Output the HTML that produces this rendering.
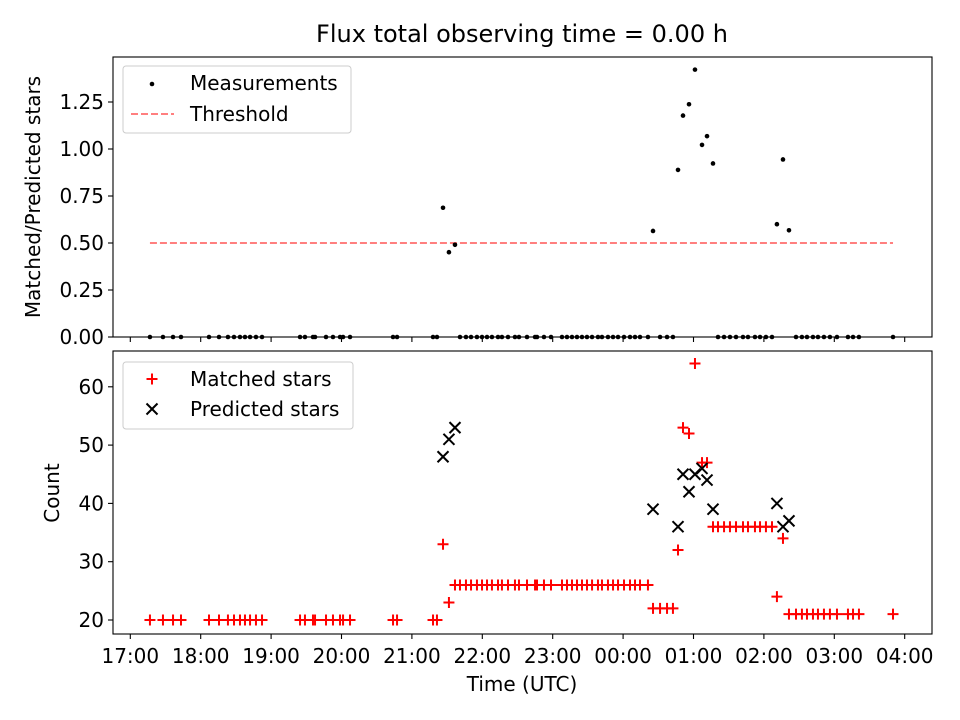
<!DOCTYPE html>
<html><head><meta charset="utf-8"><style>
html,body{margin:0;padding:0;background:#fff;}
svg{display:block;font-family:"DejaVu Sans","Liberation Sans",sans-serif;}
</style></head><body>
<svg id="chart" width="960" height="720" viewBox="0 0 960 720" xmlns="http://www.w3.org/2000/svg">
<rect width="960" height="720" fill="#fff"/>
<text x="522" y="42" font-size="24" text-anchor="middle">Flux total observing time = 0.00 h</text>
<g id="topPanel"></g><g id="botPanel"></g>
</svg>
<script>
// hours since 17:00 UTC
const times = [0.279,0.464,0.607,0.720,
1.118,1.260,1.387,1.473,1.558,1.629,1.701,1.785,1.871,
2.411,2.481,2.595,2.624,2.780,2.879,2.979,3.022,3.121,
3.732,3.789,4.300,4.356,4.442,4.526,
4.612,4.683,4.768,4.840,4.924,4.996,5.067,5.137,5.223,5.279,5.365,5.464,5.521,5.635,5.749,5.777,5.876,5.976,6.132,6.203,6.274,6.345,6.416,6.487,6.559,6.643,6.700,6.785,6.857,6.928,7.013,7.098,7.169,7.240,7.353,
7.425,7.525,7.624,7.708,
7.780,7.851,7.936,8.021,8.121,8.192,8.277,
8.348,8.434,8.518,8.604,8.703,8.774,8.873,8.945,9.029,9.115,
9.185,9.271,9.356,
9.456,9.540,9.612,9.697,9.768,9.853,9.938,10.038,10.194,10.266,10.350,
10.834];
const matched = [20,20,20,20,
20,20,20,20,20,20,20,20,20,
20,20,20,20,20,20,20,20,20,
20,20,20,20,33,23,
26,26,26,26,26,26,26,26,26,26,26,26,26,26,26,26,26,26,26,26,26,26,26,26,26,26,26,26,26,26,26,26,26,26,26,
22,22,22,22,
32,53,52,64,47,47,36,
36,36,36,36,36,36,36,36,36,36,
24,34,21,
21,21,21,21,21,21,21,21,21,21,21,
21];
const predicted = [null,null,null,null,
null,null,null,null,null,null,null,null,null,
null,null,null,null,null,null,null,null,null,
null,null,null,null,48,51,
53,null,null,null,null,null,null,null,null,null,null,null,null,null,null,null,null,null,null,null,null,null,null,null,null,null,null,null,null,null,null,null,null,null,null,
39,null,null,null,
36,45,42,45,46,44,39,
null,null,null,null,null,null,null,null,null,null,
40,36,37,
null,null,null,null,null,null,null,null,null,null,null,
null];
const threshold = 0.5;
const xTickLabels = ["17:00","18:00","19:00","20:00","21:00","22:00","23:00","00:00","01:00","02:00","03:00","04:00"];
const topTicks = [0,0.25,0.5,0.75,1.0,1.25];
const botTicks = [20,30,40,50,60];

const NS="http://www.w3.org/2000/svg";
function mk(parent,tag,attrs){const e=document.createElementNS(NS,tag);for(const k in attrs)e.setAttribute(k,attrs[k]);parent.appendChild(e);return e;}
const L=113,R=932;
const xS=h=>130.3+h*70.4;
const TB={top:57,bot:337}, BB={top:351,bot:634};
const yT=v=>337-v*188;
const yB=v=>620-(v-20)*5.83;
const gTop=document.getElementById('topPanel'), gBot=document.getElementById('botPanel');
const FS=20;

function axes(g,box,name){
  const r=mk(g,'rect',{x:L,y:box.top,width:R-L,height:box.bot-box.top,fill:'none',stroke:'#000','stroke-width':1.1});
  
  
  xTickLabels.forEach((lab,i)=>{
    const x=xS(i);
    const t=mk(g,'line',{x1:x,x2:x,y1:box.bot,y2:box.bot+5,stroke:'#000','stroke-width':1.1});
    
    
  });
}
axes(gTop,TB,'top-axes'); axes(gBot,BB,'bottom-axes');

topTicks.forEach(v=>{
  const y=yT(v);
  const t=mk(gTop,'line',{x1:L-5,x2:L,y1:y,y2:y,stroke:'#000','stroke-width':1.1});
  
  
  const tx=mk(gTop,'text',{x:L-9,y:y+7,'font-size':FS,'text-anchor':'end'});
  tx.textContent=v.toFixed(2);
  
  
});
botTicks.forEach(v=>{
  const y=yB(v);
  const t=mk(gBot,'line',{x1:L-5,x2:L,y1:y,y2:y,stroke:'#000','stroke-width':1.1});
  
  
  const tx=mk(gBot,'text',{x:L-9,y:y+7,'font-size':FS,'text-anchor':'end'});
  tx.textContent=v;
  
  
});
xTickLabels.forEach((lab,i)=>{
  const tx=mk(gBot,'text',{x:xS(i),y:663,'font-size':FS,'text-anchor':'middle'});
  tx.textContent=lab;
  
  
});
let a=mk(gTop,'text',{x:0,y:0,'font-size':FS,'text-anchor':'middle',transform:'translate(40,197) rotate(-90)'});
a.textContent='Matched/Predicted stars';


a=mk(gBot,'text',{x:0,y:0,'font-size':FS,'text-anchor':'middle',transform:'translate(59,493) rotate(-90)'});
a.textContent='Count';


a=mk(gBot,'text',{x:522,y:691,'font-size':FS,'text-anchor':'middle'});
a.textContent='Time (UTC)';



const tmin=Math.min(...times), tmax=Math.max(...times);
let th=mk(gTop,'line',{x1:xS(tmin),x2:xS(tmax),y1:yT(threshold),y2:yT(threshold),stroke:'#ff7f7f','stroke-width':2,'stroke-dasharray':'7,3'});



times.forEach((t,i)=>{
  const ratio = predicted[i] ? matched[i]/predicted[i] : 0;
  const c=mk(gTop,'circle',{cx:xS(t),cy:yT(ratio),r:2.3,fill:'#000'});
  
  
});
function plus(g,x,y,col){
  return mk(g,'path',{d:`M${x-5.5},${y}H${x+5.5}M${x},${y-5.5}V${y+5.5}`,stroke:col,'stroke-width':2,fill:'none'});
}
function cross(g,x,y,col){
  return mk(g,'path',{d:`M${x-5.5},${y-5.5}L${x+5.5},${y+5.5}M${x-5.5},${y+5.5}L${x+5.5},${y-5.5}`,stroke:col,'stroke-width':2,fill:'none'});
}
times.forEach((t,i)=>{
  const p=plus(gBot,xS(t),yB(matched[i]),'#ff0000');
  
  
});
times.forEach((t,i)=>{
  if(predicted[i]==null)return;
  const p=cross(gBot,xS(t),yB(predicted[i]),'#000');
  
  
});

function legendBox(g,y,w,name){
  const r=mk(g,'rect',{x:123,y:y,width:w,height:67,rx:3,fill:'#fff','fill-opacity':0.8,stroke:'#ccc'});
  
  
}
legendBox(gTop,66,228,'top-legend');
let d=mk(gTop,'circle',{cx:152,cy:84,r:2.3,fill:'#000'});


let t1=mk(gTop,'text',{x:190,y:90,'font-size':FS});t1.textContent='Measurements';


let ln=mk(gTop,'line',{x1:131,x2:174,y1:114,y2:114,stroke:'#ff7f7f','stroke-width':2,'stroke-dasharray':'7,3'});


t1=mk(gTop,'text',{x:190,y:121,'font-size':FS});t1.textContent='Threshold';



legendBox(gBot,362,230,'bottom-legend');
let m=plus(gBot,152,379,'#ff0000');


t1=mk(gBot,'text',{x:190,y:386,'font-size':FS});t1.textContent='Matched stars';


m=cross(gBot,152,409,'#000');


t1=mk(gBot,'text',{x:190,y:416,'font-size':FS});t1.textContent='Predicted stars';


</script>
</body></html>
